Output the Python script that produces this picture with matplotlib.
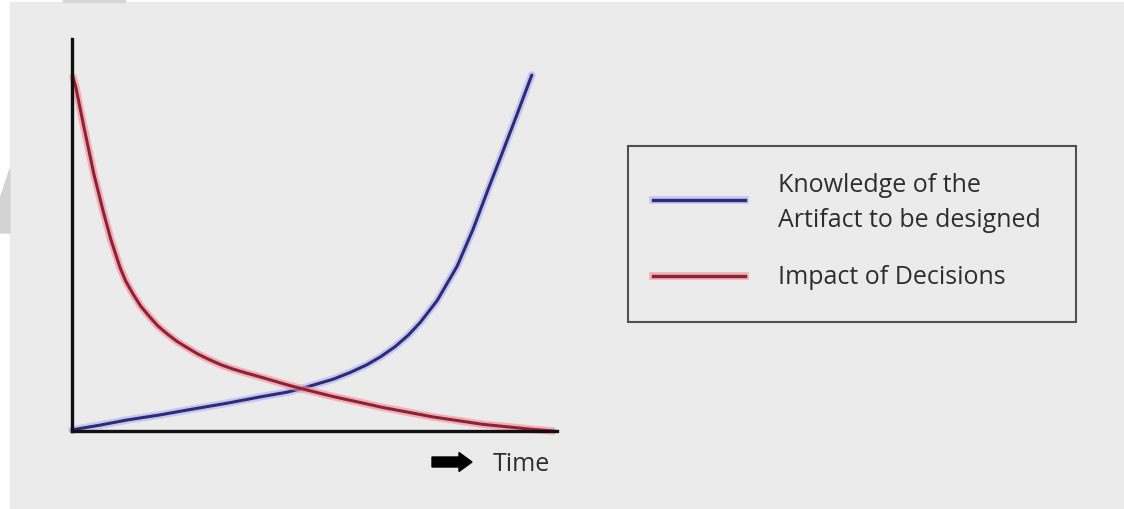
import matplotlib
matplotlib.use("Agg")
import matplotlib.pyplot as plt
import matplotlib.patches as mpatches
from matplotlib.lines import Line2D

plt.rcParams["font.family"] = ["Open Sans", "DejaVu Sans"]

# ── Data (time 0..10, level 0..10) ──────────────────────────
knowledge_t = [0.00, 0.58, 1.13, 1.81, 2.49, 3.20, 3.88, 4.43, 4.70, 5.38, 5.73,
               6.08, 6.37, 6.66, 6.93, 7.18, 7.53, 7.94, 8.27, 8.56, 8.87, 9.18, 9.48]
knowledge_v = [0.03, 0.15, 0.28, 0.41, 0.56, 0.71, 0.87, 0.99, 1.07, 1.32, 1.49,
               1.69, 1.90, 2.15, 2.44, 2.77, 3.33, 4.20, 5.15, 6.10, 7.09, 8.09, 9.08]

impact_t = [0.02, 0.08, 0.25, 0.45, 0.64, 0.80, 0.99, 1.11, 1.26, 1.42, 1.61,
            1.77, 1.96, 2.16, 2.37, 2.60, 2.85, 3.07, 3.32, 3.59, 3.88, 4.43,
            4.70, 5.38, 6.41, 7.44, 8.47, 9.51, 9.92]
impact_v = [9.03, 8.76, 7.73, 6.56, 5.62, 4.89, 4.17, 3.82, 3.49, 3.18, 2.90,
            2.68, 2.48, 2.29, 2.13, 1.96, 1.81, 1.69, 1.58, 1.48, 1.38, 1.18,
            1.09, 0.88, 0.60, 0.36, 0.17, 0.04, 0.00]

labels = ["Knowledge of the", "Artifact to be designed", "Impact of Decisions"]
x_label = "Time"

BLUE, BLUE_HALO = "#2a2c78", "#b4b4f0"
RED, RED_HALO = "#8c2232", "#f5909f"
TEXT = "#2e2e2e"
BG = "#ebebeb"
FS = 18

W, H = 1124, 510
fig = plt.figure(figsize=(W / 100, H / 100), dpi=100, facecolor="white")

# background panel + screenshot leftovers
fig.patches.append(mpatches.Rectangle((10 / W, 0), 1 - 10 / W, 1 - 3 / H,
                                      transform=fig.transFigure, color=BG, zorder=-10))
fig.patches.append(mpatches.Rectangle((63 / W, 1 - 3 / H), 62 / W, 3 / H,
                                      transform=fig.transFigure, color="#d6d6d6", zorder=-9))
fig.patches.append(mpatches.Polygon([(0, 1 - 200 / H), (10 / W, 1 - 170 / H),
                                     (10 / W, 1 - 234 / H), (0, 1 - 234 / H)],
                                    closed=True, transform=fig.transFigure,
                                    color="#d3d3d3", zorder=-9))

# ── Main plot ───────────────────────────────────────────────
ax = fig.add_axes([72 / W, 78 / H, 485 / W, 392 / H])
ax.set_xlim(0, 10)
ax.set_ylim(0, 10)
ax.patch.set_visible(False)
for s in ["top", "right"]:
    ax.spines[s].set_visible(False)
for s in ["left", "bottom"]:
    ax.spines[s].set_linewidth(2.4)
    ax.spines[s].set_color("#111111")
ax.set_xticks([])
ax.set_yticks([])

for t, v, core, halo in [(knowledge_t, knowledge_v, BLUE, BLUE_HALO),
                         (impact_t, impact_v, RED, RED_HALO)]:
    ax.plot(t, v, color=halo, lw=5.5, alpha=0.65, solid_capstyle="round",
            solid_joinstyle="round", clip_on=False)
    ax.plot(t, v, color=core, lw=2.2, solid_capstyle="round",
            solid_joinstyle="round", clip_on=False)

# "➜ Time" label under the axis
fig.patches.append(mpatches.FancyArrow(4.32, (H - 463) / 100, 0.40, 0,
                                       width=0.10, head_width=0.19, head_length=0.13,
                                       length_includes_head=True, color="black",
                                       transform=fig.dpi_scale_trans))
fig.text(493 / W, 1 - 471 / H, x_label, fontsize=FS, color=TEXT, va="baseline")

# ── Legend box ──────────────────────────────────────────────
fig.patches.append(mpatches.Rectangle((628 / W, 1 - 323 / H), 448 / W, 176 / H,
                                      transform=fig.transFigure, fill=False,
                                      edgecolor="#505050", lw=1.5))
for y, core, halo in [(201, BLUE, BLUE_HALO), (277, RED, RED_HALO)]:
    for c, lw, a in [(halo, 5.5, 0.65), (core, 2.4, 1)]:
        fig.lines.append(Line2D([653 / W, 745 / W], [1 - y / H, 1 - y / H],
                                transform=fig.transFigure, color=c, lw=lw, alpha=a))
for y, s in zip([192, 227, 284], labels):
    fig.text(778 / W, 1 - y / H, s, fontsize=FS, color=TEXT, va="baseline")

fig.savefig("out.png", dpi=100, facecolor=fig.get_facecolor())
